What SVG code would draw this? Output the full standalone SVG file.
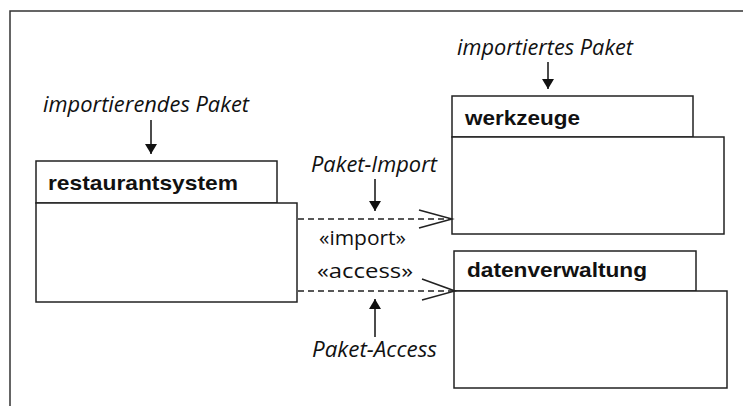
<svg xmlns="http://www.w3.org/2000/svg" width="743" height="406" viewBox="0 0 743 406">
<defs>
<style>
.box{fill:#fff;stroke:#222;stroke-width:1.5}
.name{font-family:"Liberation Sans",Arial,sans-serif;font-weight:bold;font-size:21px;fill:#111}
.note{font-family:"Open Sans","Noto Sans",sans-serif;font-style:italic;font-size:21px;fill:#111}
.stereo{font-family:"Open Sans","Noto Sans",sans-serif;font-size:20px;fill:#111}
.dep{fill:none;stroke:#222;stroke-width:1.5;stroke-dasharray:6,4}
.head{fill:none;stroke:#222;stroke-width:1.5}
.ptr{stroke:#111;stroke-width:1.5}
</style>
<marker id="tri" markerWidth="10" markerHeight="12" refX="10" refY="6" orient="auto" markerUnits="userSpaceOnUse">
<path d="M0,0 L10,6 L0,12 Z" fill="#111"/>
</marker>
</defs>
<rect width="743" height="406" fill="#fff"/>
<path d="M10,406 V11 H743" fill="none" stroke="#333" stroke-width="1.5"/>

<g id="restaurantsystem">
<rect class="box" x="36" y="161" width="241" height="42"/>
<rect class="box" x="36" y="203" width="261" height="99"/>
<text class="name" x="48" y="190" textLength="190" lengthAdjust="spacingAndGlyphs">restaurantsystem</text>
</g>

<g id="werkzeuge">
<rect class="box" x="452" y="96" width="241" height="41"/>
<rect class="box" x="452" y="137" width="272" height="97"/>
<text class="name" x="465" y="125" textLength="115" lengthAdjust="spacingAndGlyphs">werkzeuge</text>
</g>

<g id="datenverwaltung">
<rect class="box" x="454" y="251" width="242" height="40"/>
<rect class="box" x="454" y="291" width="273" height="97"/>
<text class="name" x="467" y="277" textLength="180" lengthAdjust="spacingAndGlyphs">datenverwaltung</text>
</g>

<g id="connectors">
<line class="dep" x1="298" y1="219" x2="451" y2="219"/>
<polyline class="head" points="419,210 452,219 419,228"/>
<line class="dep" x1="298" y1="291" x2="454" y2="291"/>
<polyline class="head" points="422,279 455,291 422,300"/>
<line class="ptr" x1="151" y1="120" x2="151" y2="154" marker-end="url(#tri)"/>
<line class="ptr" x1="548" y1="62" x2="548" y2="89" marker-end="url(#tri)"/>
<line class="ptr" x1="375" y1="179" x2="375" y2="211" marker-end="url(#tri)"/>
<line class="ptr" x1="375" y1="337" x2="375" y2="299" marker-end="url(#tri)"/>
</g>

<g id="labels">
<text class="note" x="43" y="112" textLength="206" lengthAdjust="spacingAndGlyphs">importierendes Paket</text>
<text class="note" x="457" y="55" textLength="176" lengthAdjust="spacingAndGlyphs">importiertes Paket</text>
<text class="note" x="311" y="172" textLength="126" lengthAdjust="spacingAndGlyphs">Paket-Import</text>
<text class="note" x="312" y="357" textLength="125" lengthAdjust="spacingAndGlyphs">Paket-Access</text>
<text class="stereo" x="319" y="245" textLength="87" lengthAdjust="spacingAndGlyphs">«import»</text>
<text class="stereo" x="317" y="278" textLength="96" lengthAdjust="spacingAndGlyphs">«access»</text>
</g>
</svg>
